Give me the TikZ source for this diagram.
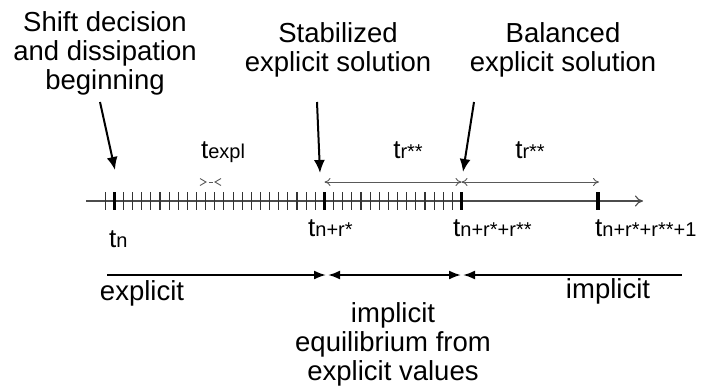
\documentclass[tikz,border=0pt]{standalone}
\usepackage{fontspec}
\setmainfont{Liberation Sans}
\usetikzlibrary{arrows.meta}
\newcommand{\tsub}[1]{{\fontsize{26}{26}\selectfont t}{\fontsize{20}{20}\selectfont #1}}

\begin{document}
\begin{tikzpicture}[x=1pt,y=-1pt,>=Latex,
    txt/.style={font=\fontsize{27.5}{29}\selectfont,align=center,anchor=base,inner sep=0pt},
    lab/.style={anchor=base west,inner sep=0pt},
    pointer/.style={line width=2pt,-{Latex[length=13pt,width=11pt]}},
    span/.style={line width=2pt},
    dimline/.style={draw=black!65,line width=0.9pt},
    thintick/.style={line width=1.1pt,black!80},
    thicktick/.style={line width=3.6pt}]
    \useasboundingbox (0,0) rectangle (703,389);

    % time axis
    \coordinate (tn) at (114.3,201);
    \coordinate (tnr) at (324.5,201);
    \coordinate (tnrr) at (461.5,201);
    \coordinate (tend) at (598,201);
    \draw[black!70,line width=1.1pt,-{To[length=8pt,width=11pt]}] (86,201) -- (643,201);
    \foreach \k in {-1,...,38}
      \draw[thintick] ({114.3+\k*9.137},192) -- ++(0,18);
    \foreach \p in {tn,tnr,tnrr,tend}
      \draw[thicktick] (\p) ++(0,-9) -- ++(0,18);

    \node[lab] (ltn) at (109,247) {\tsub{n}};
    \node[lab] (ltnr) at (308,236) {\tsub{n+r*}};
    \node[lab] (ltnrr) at (453,236) {\tsub{n+r*+r**}};
    \node[lab] (ltend) at (595,236) {\tsub{n+r*+r**+1}};

    % intervals above the axis
    \coordinate (ea) at (206,182);
    \coordinate (eb) at (215,182);
    \draw[dimline] (ea) ++(-6,-3.5) -- (ea) -- ++(-6,3.5);
    \draw[dimline] (eb) ++(6,-3.5) -- (eb) -- ++(6,3.5);
    \draw[dimline] (208.5,182) -- (212.5,182);
    \coordinate (da) at (324.5,182);
    \coordinate (db) at (461.5,182);
    \coordinate (dc) at (599,182);
    \draw[dimline,{To[length=6pt,width=8pt]}-{To[length=6pt,width=8pt]}] (da) -- (db);
    \draw[dimline,{To[length=6pt,width=8pt]}-{To[length=6pt,width=8pt]}] (db) -- (dc);
    \node[lab,anchor=base] (lexpl) at (223,158) {\tsub{expl}};
    \node[lab,anchor=base] (lr1) at (408,158) {\tsub{r**}};
    \node[lab,anchor=base] (lr2) at (530,158) {\tsub{r**}};

    % events (base = last line)
    \node[txt] (shift) at (105,89) {Shift decision\\and dissipation\\beginning};
    \node[txt] (stab) at (338,71) {Stabilized\\explicit solution};
    \node[txt] (bal) at (563,71) {Balanced\\explicit solution};
    \coordinate (s1) at (100,102);
    \coordinate (s2) at (115,170);
    \coordinate (b1) at (317,102);
    \coordinate (b2) at (320,173);
    \coordinate (c1) at (474,102);
    \coordinate (c2) at (463,172);
    \draw[pointer] (s1) -- (s2);
    \draw[pointer] (b1) -- (b2);
    \draw[pointer] (c1) -- (c2);

    % computation phases
    \coordinate (p0) at (107,275);
    \coordinate (p1) at (326,275);
    \coordinate (p2) at (328,275);
    \coordinate (p3) at (461,275);
    \coordinate (p4) at (463,275);
    \coordinate (p5) at (682,275);
    \draw[span,-{Latex[length=12pt,width=9pt]}] (p0) -- (p1);
    \draw[span,{Latex[length=12pt,width=9pt]}-{Latex[length=12pt,width=9pt]}] (p2) -- (p3);
    \draw[span,{Latex[length=12pt,width=9pt]}-] (p4) -- (p5);
    \node[txt] (expl) at (142,300) {explicit};
    \node[txt] (mid) at (393,380) {implicit\\equilibrium from\\explicit values};
    \node[txt] (impl) at (608,298) {implicit};
  \end{tikzpicture}
\end{document}
